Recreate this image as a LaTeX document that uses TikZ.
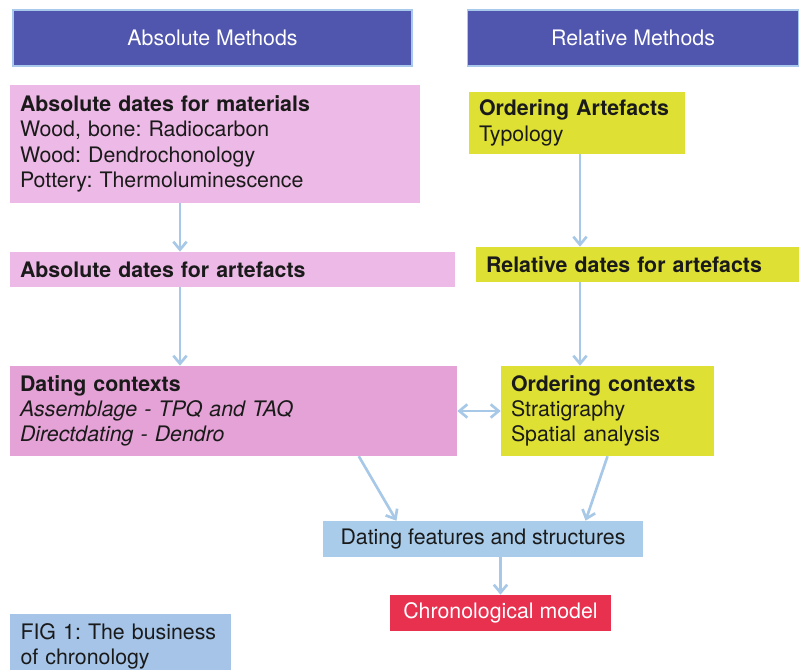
\documentclass[tikz,border=0pt]{standalone}
\usepackage{fontspec}
\setmainfont{TeX Gyre Heros}
\usepackage{xcolor}
\usepackage{tikz}
\usetikzlibrary{calc,arrows.meta}

\definecolor{headblue}{HTML}{5055AD}
\definecolor{headline}{HTML}{A8C8EC}
\definecolor{pinklight}{HTML}{EDB9E6}
\definecolor{pinkdark}{HTML}{E4A2D6}
\definecolor{yellowbox}{HTML}{DEE034}
\definecolor{bluebox}{HTML}{A9CCEA}
\definecolor{figblue}{HTML}{A5C4E8}
\definecolor{redbox}{HTML}{E8304F}
\definecolor{arrowblue}{HTML}{A8C8E8}
\definecolor{textgray}{HTML}{1A1A1A}

\frenchspacing
\tikzset{barb/.tip={Straight Barb[length=6pt,width=10pt]}}

\begin{document}
\begin{tikzpicture}[x=0.75pt,y=-0.75pt,
    every node/.style={font=\fontsize{16}{19}\selectfont, inner sep=0pt, text=textgray},
    head/.style={fill=headblue, draw=headline, line width=1.2pt, text=white, minimum height=42pt},
    leftbox/.style={align=left, inner xsep=7.5pt},
    arr/.style={arrowblue, line width=2pt, -barb}]
        \useasboundingbox (0,0) rectangle (799,670);

        % headers
        \node[head, minimum width=299.25pt] (absHead) at (212.5,38) {Absolute Methods};
        \node[head, minimum width=248.25pt] (relHead) at (633,38) {Relative Methods};

        % absolute side
        \node[leftbox, fill=pinklight, text width=292.5pt, minimum height=88.5pt] (absMat) at (215,144)
             {\textbf{Absolute dates for materials}\\ Wood, bone: Radiocarbon\\ Wood: Dendrochonology\\ Pottery: Thermoluminescence};
        \node[leftbox, fill=pinklight, text width=318.75pt, minimum height=26.25pt] (absArt) at (232.5,269.5)
             {\textbf{Absolute dates for artefacts}};
        \node[leftbox, fill=pinkdark, text width=320.25pt, minimum height=67.5pt] (datCtx) at (233.5,411)
             {\textbf{Dating contexts}\\ \textit{Assemblage - TPQ and TAQ}\\ \textit{Directdating - Dendro}};

        % relative side
        \node[leftbox, fill=yellowbox, text width=147pt, minimum height=46.5pt] (ordArt) at (577,123)
             {\textbf{Ordering Artefacts}\\ Typology};
        \node[leftbox, fill=yellowbox, text width=227.25pt, minimum height=26.25pt] (relArt) at (637.5,264.5)
             {\textbf{Relative dates for artefacts}};
        \node[leftbox, fill=yellowbox, text width=144.75pt, minimum height=67.5pt] (ordCtx) at (607.5,411)
             {\textbf{Ordering contexts}\\ Stratigraphy\\ Spatial analysis};

        % bottom boxes
        \node[fill=bluebox, minimum width=240pt, minimum height=27pt] (datFeat) at (483,539)
             {Dating features and structures};
        \node[fill=redbox, text=white, minimum width=165.75pt, minimum height=27pt] (chrono) at (500.5,613)
             {Chronological model};

        % caption box
        \node[leftbox, fill=figblue, inner xsep=8pt, text width=150pt, minimum height=49.5pt] (fig) at (120.5,646.5)
             {FIG 1: The business\\ of chronology};

        % arrows
        \def\xl{180} % x of left arrows
        \def\xr{580} % x of right arrows
        \coordinate (L) at (\xl,0);
        \coordinate (R) at (\xr,0);
        \draw[arr] (absMat.south -| L) -- (absArt.north -| L);
        \draw[arr] (absArt.south -| L) -- (datCtx.north -| L);
        \draw[arr] (ordArt.south -| R) -- (relArt.north -| R);
        \draw[arr] (relArt.south -| R) -- (ordCtx.north -| R);
        \draw[arr, barb-barb] (datCtx) -- (ordCtx);
        \draw[arr] ($(datCtx.south west)!0.78!(datCtx.south east)$) -- ($(datFeat.north west)!0.23!(datFeat.north east)$);
        \draw[arr] (ordCtx.south) -- ($(datFeat.north west)!0.82!(datFeat.north east)$);
        \draw[arr] (datFeat.south -| chrono.north) -- (chrono);
\end{tikzpicture}
\end{document}
